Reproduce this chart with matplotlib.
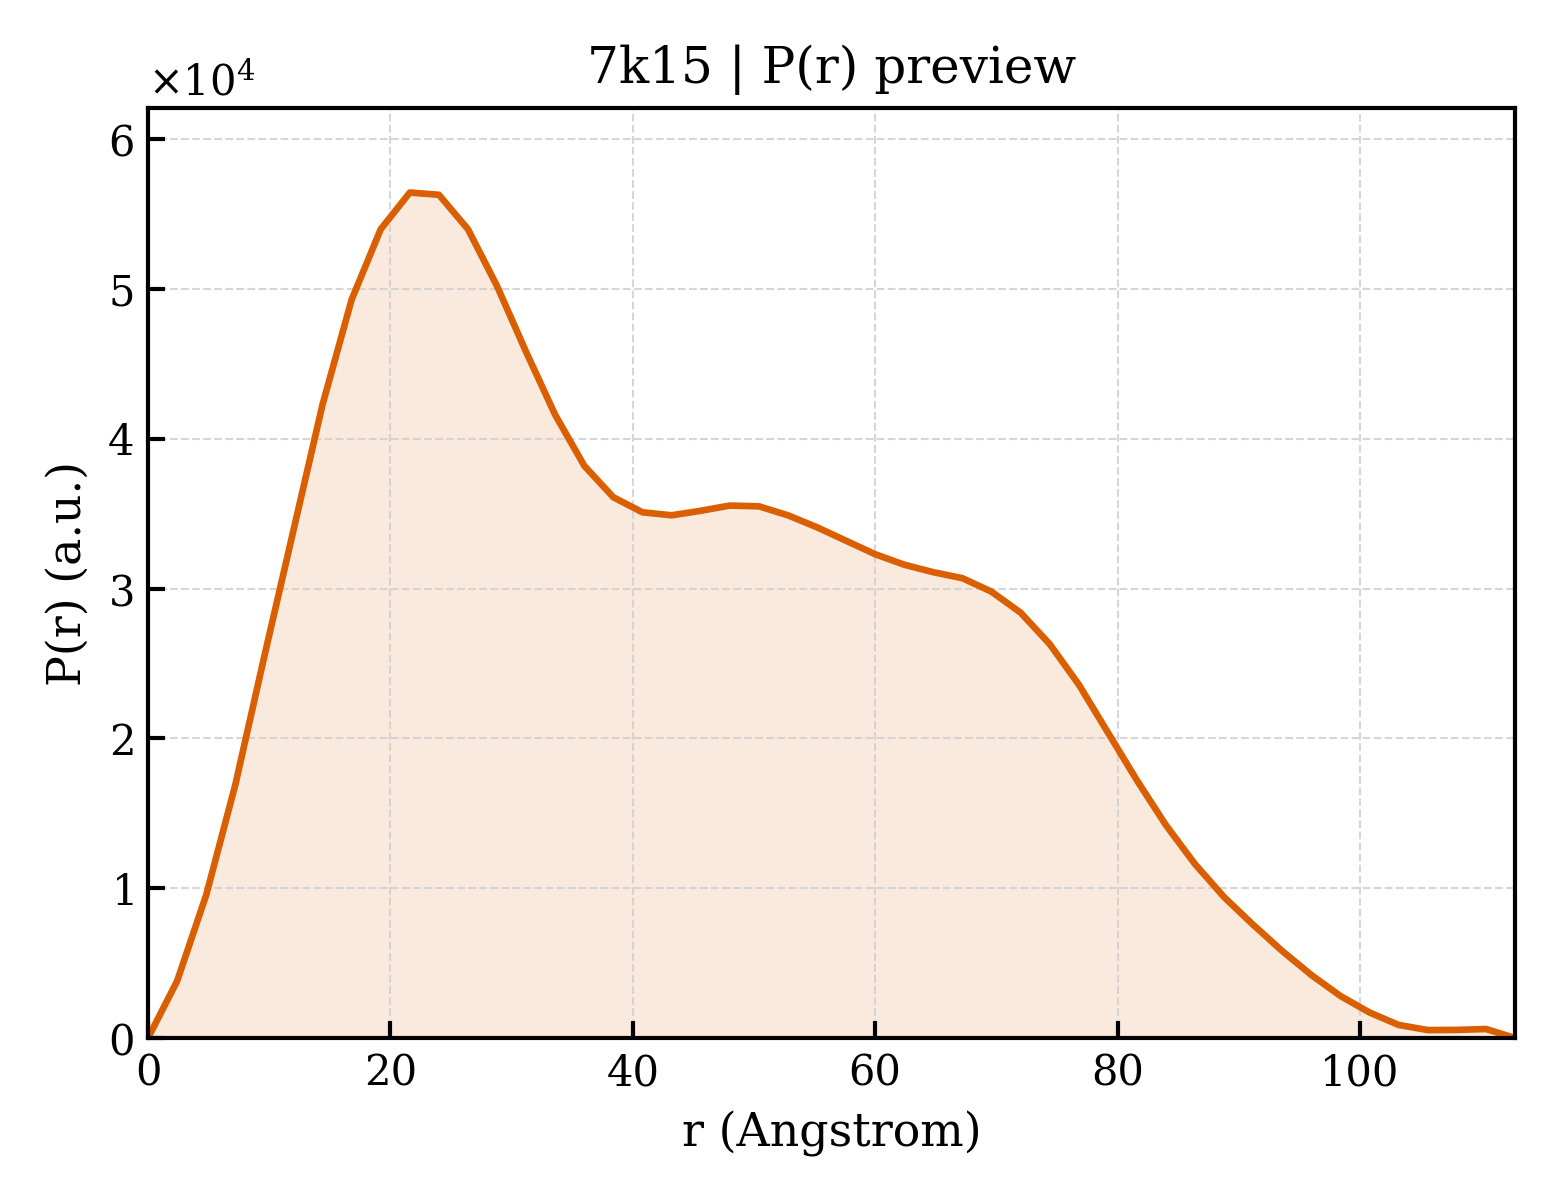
import matplotlib
matplotlib.use("Agg")
import matplotlib.pyplot as plt
import numpy as np

r = np.arange(48) * 2.4
pr = [0.0, 0.38, 0.955, 1.69, 2.55, 3.39, 4.23, 4.93, 5.40, 5.645,
      5.63, 5.40, 5.02, 4.58, 4.16, 3.82, 3.61, 3.51, 3.49, 3.52,
      3.555, 3.55, 3.49, 3.41, 3.32, 3.23, 3.16, 3.11, 3.07, 2.98,
      2.84, 2.63, 2.36, 2.04, 1.72, 1.42, 1.16, 0.94, 0.755, 0.58,
      0.42, 0.28, 0.17, 0.087, 0.053, 0.054, 0.06, 0.0]
pr = np.array(pr) * 1e4

title = "7k15 | P(r) preview"
xlabel = "r (Angstrom)"
ylabel = "P(r) (a.u.)"
color = "#d95f02"

plt.rcParams['font.family'] = 'DejaVu Serif'
plt.rcParams['mathtext.fontset'] = 'dejavuserif'

fig = plt.figure(figsize=(5.2, 4), dpi=300)
ax = fig.add_axes([0.0949, 0.135, 0.8763, 0.775])

ax.plot(r, pr, color=color, lw=1.6)
ax.fill_between(r, pr, 0, color=color, alpha=0.13, lw=0)

ax.set_xlim(0, r[-1])
ax.set_ylim(0, pr.max() * 1.1)
ax.ticklabel_format(axis='y', style='sci', scilimits=(0, 0), useMathText=True)
ax.tick_params(direction='in', labelsize=10, width=1.0, length=4)
for s in ax.spines.values():
    s.set_linewidth(1.0)
ax.yaxis.get_offset_text().set_fontsize(10)
ax.grid(True, ls='--', lw=0.5, color='#cccccc', alpha=0.8)

ax.set_title(title, fontsize=12)
ax.set_xlabel(xlabel, fontsize=11)
ax.set_ylabel(ylabel, fontsize=11)

fig.savefig("out.png", dpi=300)
